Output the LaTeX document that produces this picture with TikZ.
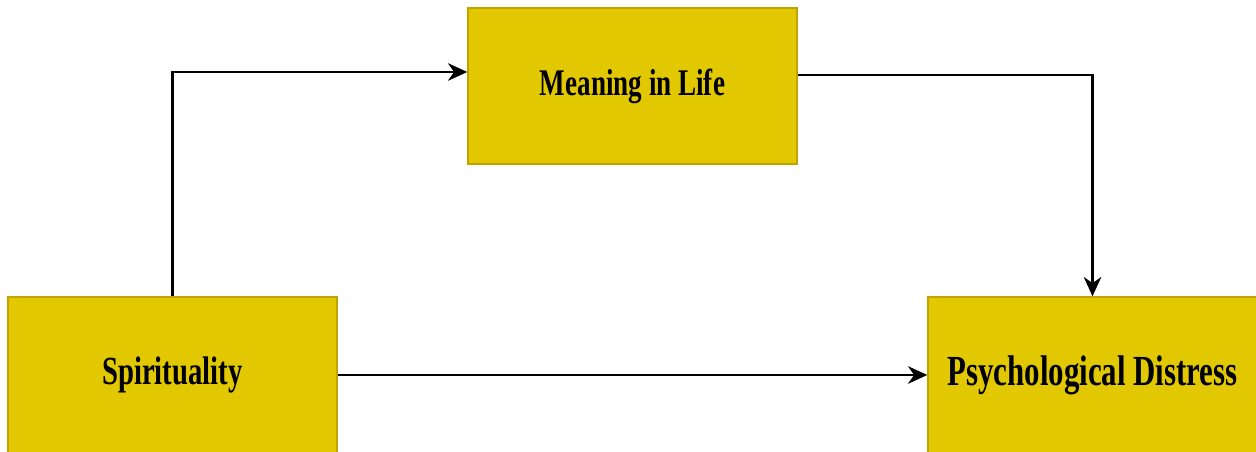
\documentclass[tikz,border=0pt]{standalone}
\usepackage{fontspec}
\setmainfont{Liberation Serif}
\usepackage{graphicx}
\usetikzlibrary{arrows.meta}
\definecolor{boxfill}{RGB}{226,200,0}
\definecolor{boxline}{RGB}{192,162,0}
\tikzset{
  varbox/.style={draw=boxline,fill=boxfill,line width=0.8pt,minimum width=6.58cm,minimum height=3.12cm,inner sep=0pt},
  link/.style={line width=1.2pt,-{Stealth[length=11pt,width=10pt,inset=3.5pt]}}
}
\newcommand{\boxtext}[2]{\bfseries\fontsize{#1}{#1}\selectfont\scalebox{0.72}[1]{#2}}
\begin{document}
\begin{tikzpicture}
%\draw[step=1,thick](0,0) grid (25,9);
\useasboundingbox (0,0) rectangle (25.12,9.04);
\node[varbox] (mean) at (12.65,7.32) {\raisebox{-1pt}{\boxtext{21.4pt}{Meaning in Life}}};
\node[varbox] (spirit) at (3.45,1.54) {\raisebox{-2pt}{\boxtext{22.7pt}{Spirituality}}};
\node[varbox] (distress) at (21.85,1.54) {\raisebox{-3pt}{\boxtext{24.4pt}{Psychological Distress}}};
\draw[link] (spirit.north) |- ([yshift=0.28cm]mean.west);
\draw[link] ([yshift=0.22cm]mean.east) -| (distress.north);
\draw[link] (spirit) -- (distress);
\end{tikzpicture}
\end{document}
